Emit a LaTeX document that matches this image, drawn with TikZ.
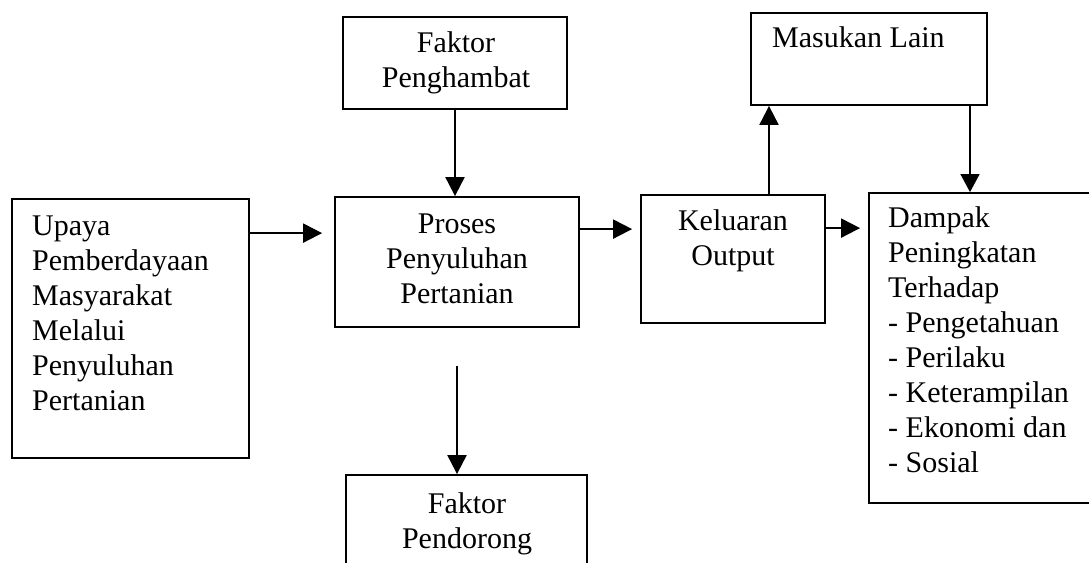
\documentclass[tikz,border=0pt]{standalone}
\usepackage{fontspec}
\setmainfont{Liberation Serif}
\usetikzlibrary{arrows.meta,calc}
\newcommand\fstrut{\rule{0pt}{21pt}}
\begin{document}
\begin{tikzpicture}[x=1pt,y=-1pt,
  box/.style={draw, line width=1.8pt, inner sep=0pt},
  txt/.style={inner sep=0pt, font=\fontsize{30}{35}\selectfont},
  arr/.style={line width=2pt, -{Triangle[length=19pt,width=19pt]}},
  thinarr/.style={line width=1.3pt, -{Triangle[length=18pt,width=19pt]}}]
\clip (0,0) rectangle (1089,562);
\fill[white] (0,0) rectangle (1089,562);
% boxes
\node[box, minimum width=224pt, minimum height=92pt] (pengh) at (455,63) {};
\node[box, minimum width=236pt, minimum height=92pt] (masuk) at (869,59) {};
\node[box, minimum width=237pt, minimum height=259pt] (upaya) at (130.5,328.5) {};
\node[box, minimum width=244pt, minimum height=130pt] (proses) at (457,262) {};
\node[box, minimum width=184pt, minimum height=128pt] (kel) at (733,259) {};
\node[box, minimum width=251pt, minimum height=310pt] (dampak) at (994.5,348) {};
\node[box, minimum width=241pt, minimum height=145pt] (pendor) at (466.5,547.5) {};
% texts
\node[txt, align=center, anchor=north] (penghT) at (456,31) {\fstrut Faktor\\Penghambat};
\node[txt, align=left, anchor=north west] (masukT) at (772,26) {\fstrut Masukan Lain};
\node[txt, align=left, anchor=north west] (upayaT) at (32,214) {\fstrut Upaya\\Pemberdayaan\\Masyarakat\\Melalui\\Penyuluhan\\Pertanian};
\node[txt, align=center, anchor=north] (prosesT) at (457,212) {\fstrut Proses\\Penyuluhan\\Pertanian};
\node[txt, align=center, anchor=north] (kelT) at (733,209) {\fstrut Keluaran\\Output};
\node[txt, align=left, anchor=north west] (dampakT) at (888,206) {\fstrut Dampak\\Peningkatan\\Terhadap\\- Pengetahuan\\- Perilaku\\- Keterampilan\\- Ekonomi dan\\- Sosial};
\node[txt, align=center, anchor=north] (pendorT) at (467,492) {\fstrut Faktor\\Pendorong};
% connectors
\draw[arr] ([yshift=-35pt]upaya.north east) -- ([xshift=-12pt,yshift=-37pt]proses.north west);
\draw[arr] ([yshift=-33pt]proses.north east) -- ([xshift=-8pt,yshift=-35pt]kel.north west);
\draw[arr] ([yshift=-34pt]kel.north east) -- ([xshift=-8pt,yshift=-36pt]dampak.north west);
\draw[arr] (pengh.south) -- (pengh.south |- proses.north);
\draw[arr] ([xshift=36pt]kel.north) -- ([xshift=36pt]kel.north |- masuk.south);
\draw[thinarr] ([xshift=101pt]masuk.south) -- ([xshift=101pt]masuk.south |- dampak.north);
\draw[arr] ([yshift=-38pt]proses.south) -- (proses.south |- pendor.north);
\end{tikzpicture}
\end{document}
